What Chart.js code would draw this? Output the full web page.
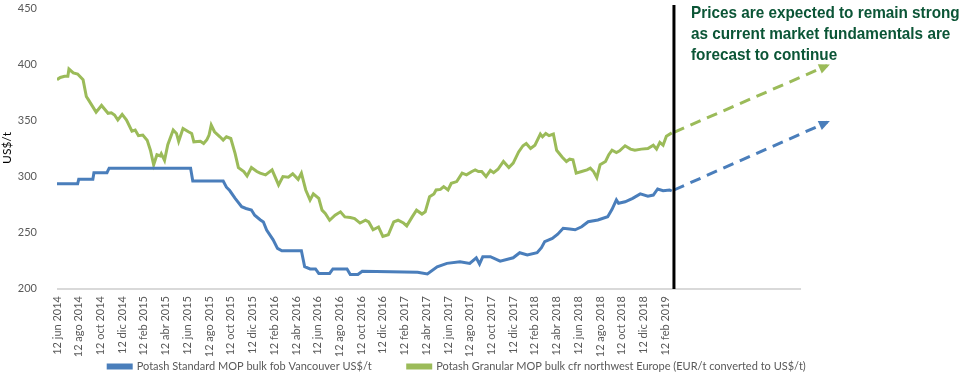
<!DOCTYPE html>
<html>
<head>
<meta charset="utf-8">
<script src="https://cdn.jsdelivr.net/npm/chart.js@4"></script>
<style>
    body { margin: 0; background: #fff; }
    #wrap { position: relative; width: 963px; height: 376px; }
    #note {
        position: absolute; left: 691px; top: 2px;
        font-family: "Liberation Sans", Arial, sans-serif;
        font-weight: bold; font-size: 17px; line-height: 21px;
        color: #0b5536; white-space: nowrap;
        transform: scaleX(0.9); transform-origin: left top;
    }
</style>
</head>
<body>
<div id="wrap">
    <canvas id="potashChart" width="963" height="376"></canvas>
    <div id="note">Prices are expected to remain strong<br>as current market fundamentals are<br>forecast to continue</div>
</div>
<script>
// x values are months counted from 12 jun 2014
const tickLabels = [
    '12 jun 2014', '12 ago 2014', '12 oct 2014', '12 dic 2014',
    '12 feb 2015', '12 abr 2015', '12 jun 2015', '12 ago 2015', '12 oct 2015', '12 dic 2015',
    '12 feb 2016', '12 abr 2016', '12 jun 2016', '12 ago 2016', '12 oct 2016', '12 dic 2016',
    '12 feb 2017', '12 abr 2017', '12 jun 2017', '12 ago 2017', '12 oct 2017', '12 dic 2017',
    '12 feb 2018', '12 abr 2018', '12 jun 2018', '12 ago 2018', '12 oct 2018', '12 dic 2018',
    '12 feb 2019'
];

const vancouverMonths = [0, 1.9, 2.0, 3.3, 3.4, 4.6, 4.8, 12.3, 12.5, 15.3,
    15.6, 15.9, 16.4, 17.0, 17.4, 17.9, 18.2, 18.7, 19.0, 19.3,
    19.9, 20.3, 20.7, 22.5, 22.8, 23.3, 23.8, 24.1, 25.1, 25.4,
    26.7, 27.0, 27.7, 28.1, 30.7, 33.2, 34.1, 35.0, 35.9, 37.1,
    38.0, 38.6, 38.9, 39.2, 39.9, 40.8, 42.0, 42.6, 43.3, 44.2,
    44.6, 44.9, 45.6, 46.1, 46.6, 47.2, 47.7, 48.3, 48.9, 49.8,
    50.7, 51.1, 51.5, 51.7, 52.3, 53.0, 53.7, 54.4, 54.9, 55.3,
    55.8, 56.4, 56.6];
const vancouverPrices = [293, 293, 297, 297, 303, 303, 307, 307, 295.5, 295.5,
    290, 287, 280, 272.6, 271, 269.6, 265, 261, 259, 251.8,
    243, 235.4, 233.3, 233.3, 219, 217, 217, 213, 213, 217,
    217, 212, 212, 215, 214.5, 214, 212.5, 219, 222, 223.5,
    222, 227, 221.4, 228, 228, 224, 227, 231.5, 229.5, 231.5,
    236, 241.4, 244.3, 248, 253.3, 252.7, 252, 254.7, 259.2, 260.7,
    263.7, 270.2, 278.6, 275.6, 277, 280, 284, 282, 283, 288.4,
    286.9, 287.5, 286.6];

const europeMonths = [0, 0.3, 0.7, 1.0, 1.1, 1.5, 1.9, 2.4, 2.7, 2.9,
    3.6, 4.1, 4.7, 5.0, 5.3, 5.6, 6.0, 6.4, 6.9, 7.2,
    7.5, 7.9, 8.3, 8.6, 8.9, 9.2, 9.5, 9.6, 9.9, 10.2,
    10.7, 11.0, 11.2, 11.6, 12.1, 12.4, 12.6, 13.2, 13.5, 13.8,
    14.0, 14.2, 14.5, 15.0, 15.3, 15.6, 16.0, 16.4, 16.7, 17.2,
    17.5, 17.9, 18.4, 18.7, 19.2, 19.8, 20.4, 20.8, 21.3, 21.7,
    22.2, 22.5, 22.9, 23.3, 23.6, 24.1, 24.4, 24.7, 25.1, 25.6,
    26.1, 26.5, 27.0, 27.4, 27.9, 28.4, 28.7, 29.1, 29.6, 30.0,
    30.5, 31.0, 31.4, 31.9, 32.2, 32.7, 33.1, 33.6, 33.9, 34.3,
    34.7, 34.9, 35.3, 35.6, 36.0, 36.3, 36.8, 37.3, 37.7, 38.2,
    38.5, 38.8, 39.1, 39.5, 39.9, 40.2, 40.6, 41.1, 41.6, 42.0,
    42.5, 42.9, 43.2, 43.6, 44.0, 44.5, 44.7, 45.0, 45.3, 45.7,
    46.0, 46.5, 46.9, 47.2, 47.5, 47.8, 48.3, 48.8, 49.1, 49.4,
    49.7, 50.0, 50.5, 50.8, 51.1, 51.5, 51.8, 52.3, 52.8, 53.2,
    53.8, 54.4, 54.9, 55.2, 55.5, 55.8, 56.1, 56.6];
const europePrices = [386, 388, 389, 389, 395.5, 392, 391, 386, 371, 368,
    357, 363, 356, 356.5, 354.5, 350, 355, 350, 340, 341,
    336, 336.5, 332, 323, 310, 319, 318, 320, 314, 328,
    341, 338, 331, 342.5, 339.5, 338, 330.5, 331, 329, 332.5,
    336.5, 345.5, 339.5, 335, 332, 335, 333.5, 320, 307.5, 304,
    300, 307.5, 304, 302.5, 301, 305.5, 292, 299.5, 299, 302,
    297, 302.5, 287.5, 278.5, 284, 280, 269.5, 266.5, 260.5, 265,
    268, 263.5, 263, 262, 258, 260.5, 259, 252, 254.5, 246,
    247.5, 259, 260.5, 258, 255.5, 263.5, 269.5, 266, 268, 281.5,
    284, 287.5, 288, 290.5, 287.5, 293.5, 295, 302.5, 301, 304,
    305.5, 304, 304, 299.5, 305, 303, 306, 313, 307.5, 311.5,
    321.5, 327, 329, 324.5, 327.5, 337.5, 335, 338, 336, 337.5,
    323, 317, 313, 315, 314.5, 302.5, 304, 305.5, 307, 304,
    298.5, 310, 313, 319, 323, 321, 322.5, 327, 324, 323,
    324, 324.5, 327.5, 324, 330, 327.5, 335.5, 338.5];

// forecast arrows, after the divider
const forecastMonths = [56.8, 70.9];
const vancouverForecast = [287.5, 348];
const europeForecast = [339, 398.5];
const dividerMonth = 56.8;
const axisEndMonth = 68.5;

const blue = '#4a7ebb';
const green = '#9bbb59';
const tickColor = '#595959';

const toPoints = (xs, ys) => xs.map((x, i) => ({x: x, y: ys[i]}));

// gray x axis line (stops short of the arrows), black divider, arrow heads
const extras = {
    id: 'extras',
    beforeDatasetsDraw(chart) {
        const ctx = chart.ctx;
        const xs = chart.scales.x;
        const area = chart.chartArea;
        ctx.save();
        ctx.strokeStyle = '#d9d9d9';
        ctx.lineWidth = 2;
        ctx.beginPath();
        ctx.moveTo(area.left, area.bottom + 1);
        ctx.lineTo(xs.getPixelForValue(axisEndMonth), area.bottom + 1);
        ctx.stroke();
        ctx.restore();
    },
    afterDatasetsDraw(chart) {
        const ctx = chart.ctx;
        const xs = chart.scales.x;
        const area = chart.chartArea;

        chart.data.datasets.forEach((ds, i) => {
            if (!ds.arrow) return;
            const pts = chart.getDatasetMeta(i).data;
            const a = pts[pts.length - 2], b = pts[pts.length - 1];
            const ang = Math.atan2(b.y - a.y, b.x - a.x);
            ctx.save();
            ctx.translate(b.x, b.y);
            ctx.rotate(ang);
            ctx.fillStyle = ds.borderColor;
            ctx.beginPath();
            ctx.moveTo(3, 0);
            ctx.lineTo(-8, -5);
            ctx.lineTo(-8, 5);
            ctx.closePath();
            ctx.fill();
            ctx.restore();
        });

        const x = xs.getPixelForValue(dividerMonth);
        ctx.save();
        ctx.strokeStyle = '#000';
        ctx.lineWidth = 3;
        ctx.beginPath();
        ctx.moveTo(x, area.top - 3);
        ctx.lineTo(x, area.bottom + 1);
        ctx.stroke();
        ctx.restore();
    }
};

const ctx = document.getElementById('potashChart').getContext('2d');
new Chart(ctx, {
    type: 'line',
    data: {
        datasets: [
            {
                label: 'Potash Standard MOP bulk fob Vancouver US$/t',
                data: toPoints(vancouverMonths, vancouverPrices),
                borderColor: blue,
                backgroundColor: blue,
                borderWidth: 3
            },
            {
                label: 'Potash Granular MOP bulk cfr northwest Europe (EUR/t converted to US$/t)',
                data: toPoints(europeMonths, europePrices),
                borderColor: green,
                backgroundColor: green,
                borderWidth: 3
            },
            {
                data: toPoints(forecastMonths, vancouverForecast),
                borderColor: blue,
                borderWidth: 3,
                borderDash: [11, 7],
                arrow: true
            },
            {
                data: toPoints(forecastMonths, europeForecast),
                borderColor: green,
                borderWidth: 3,
                borderDash: [11, 7],
                arrow: true
            }
        ]
    },
    options: {
        responsive: false,
        animation: false,
        devicePixelRatio: 1,
        layout: {padding: {top: 0, right: 49, left: 0, bottom: -6}},
        elements: {point: {radius: 0}, line: {tension: 0}},
        plugins: {
            tooltip: {enabled: false},
            legend: {
                position: 'bottom',
                labels: {
                    filter: (item) => !!item.text,
                    // en spaces widen the gap between the two entries
                    generateLabels: (chart) => Chart.defaults.plugins.legend.labels.generateLabels(chart)
                        .map((item, i) => Object.assign(item, {text: i === 0 ? item.text + '\u2002\u2002\u2002\u2002\u2002\u2002' : item.text})),
                    boxWidth: 23,
                    boxHeight: 3,
                    padding: 3,
                    color: tickColor,
                    font: {family: 'Lato', size: 11}
                }
            }
        },
        scales: {
            x: {
                type: 'linear',
                min: 0,
                max: 78.9,
                grid: {display: false},
                border: {display: false},
                afterFit: (axis) => { axis.height = 70; },
                afterBuildTicks: (axis) => {
                    axis.ticks = tickLabels.map((_, i) => ({value: i * 2}));
                },
                ticks: {
                    autoSkip: false,
                    maxRotation: 90,
                    minRotation: 90,
                    padding: 0,
                    color: tickColor,
                    font: {family: 'Lato', size: 11},
                    callback: (value, index) => tickLabels[index]
                }
            },
            y: {
                min: 200,
                max: 450,
                grid: {display: false},
                border: {display: false},
                afterFit: (axis) => {
                    axis.width = 57;
                    // keep the tick padding from pushing the plot top down
                    axis.paddingTop = 8;
                    axis.paddingBottom = 0;
                },
                title: {
                    display: true,
                    text: 'US$/t',
                    color: '#000',
                    font: {family: 'Lato', size: 12},
                    padding: {top: 0, bottom: 4}
                },
                ticks: {
                    stepSize: 50,
                    padding: 12,
                    color: tickColor,
                    font: {family: 'Lato', size: 11}
                }
            }
        }
    },
    plugins: [extras]
});
</script>
</body>
</html>
